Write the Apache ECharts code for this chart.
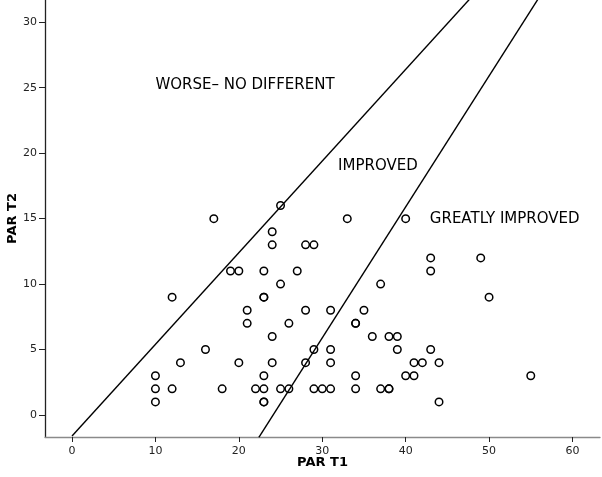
<!DOCTYPE html>
<html>
<head>
<meta charset="utf-8">
<script src="https://cdn.jsdelivr.net/npm/echarts@6/dist/echarts.min.js"></script>
<style>
html,body{margin:0;padding:0;background:#fff;}
#chart{width:602px;height:477px;}
</style>
</head>
<body>
<div id="chart"></div>
<script>
// PAR T1 (x) values of each subject
const parT1 = [25,17,33,40,24,24,28,29,43,49,
  19,20,23,27,43,25,37,12,23,23,50,
  21,28,31,35,21,26,34,34,24,36,38,39,
  16,29,31,39,43,13,20,24,28,31,41,42,44,
  10,23,34,40,41,55,
  10,12,18,22,23,25,26,29,30,31,34,37,38,38,
  10,23,23,44];
// PAR T2 (y) values of each subject
const parT2 = [16,15,15,15,14,13,13,13,12,12,
  11,11,11,11,11,10,10,9,9,9,9,
  8,8,8,8,7,7,7,7,6,6,6,6,
  5,5,5,5,5,4,4,4,4,4,4,4,4,
  3,3,3,3,3,3,
  2,2,2,2,2,2,2,2,2,2,2,2,2,2,
  1,1,1,1];
// reference boundary lines (endpoints in data units)
const line1X = [0, 50];
const line1Y = [-1.6, 33.4];
const line2X = [22.4, 58];
const line2Y = [-1.7, 33.9];
// region annotations
const noteText = ['WORSE\u2013 NO DIFFERENT', 'IMPROVED', 'GREATLY IMPROVED'];
const noteX = [10, 31.9, 42.9];
const noteY = [25.2, 19.0, 15.0];
// tick labels
const xTicks = [0, 10, 20, 30, 40, 50, 60];
const yTicks = [0, 5, 10, 15, 20, 25, 30];

const chart = echarts.init(document.getElementById('chart'), null, {renderer: 'canvas'});
const pts = parT1.map((x, i) => [x, parT2[i]]);
const notes = noteText.map((t, i) => ({value: [noteX[i], noteY[i]], name: t}));

chart.setOption({
  animation: false,
  backgroundColor: '#fff',
  grid: {left: 45, right: 2, top: 0, bottom: 40, containLabel: false, outerBoundsMode: 'none'},
  xAxis: {
    type: 'value', min: -3.24, max: 63.3,
    name: 'PAR T1', nameLocation: 'middle', nameGap: 19, nameMoveOverlap: false,
    nameTextStyle: {fontFamily: 'DejaVu Sans', fontWeight: 'bold', fontSize: 13, color: '#000'},
    splitLine: {show: false},
    axisLine: {show: true, onZero: false, lineStyle: {color: '#8a8a8a', width: 1.3}},
    axisTick: {show: true, length: 5, customValues: xTicks, lineStyle: {color: '#222'}},
    axisLabel: {customValues: xTicks, margin: 9, fontFamily: 'DejaVu Sans', fontSize: 11, color: '#222'}
  },
  yAxis: {
    type: 'value', min: -1.68, max: 31.7,
    name: 'PAR T2', nameLocation: 'middle', nameGap: 26, nameRotate: 90, nameMoveOverlap: false,
    nameTextStyle: {fontFamily: 'DejaVu Sans', fontWeight: 'bold', fontSize: 13, color: '#000'},
    splitLine: {show: false},
    axisLine: {show: true, onZero: false, lineStyle: {color: '#222', width: 1.3}},
    axisTick: {show: true, length: 6, customValues: yTicks, lineStyle: {color: '#222'}},
    axisLabel: {customValues: yTicks, margin: 8, fontFamily: 'DejaVu Sans', fontSize: 11, color: '#222'}
  },
  series: [
    {type: 'line', data: line1X.map((x, i) => [x, line1Y[i]]), symbol: 'none', silent: true,
     lineStyle: {color: '#000', width: 1.4}, clip: true},
    {type: 'line', data: line2X.map((x, i) => [x, line2Y[i]]), symbol: 'none', silent: true,
     lineStyle: {color: '#000', width: 1.4}, clip: true},
    {type: 'scatter', data: pts, symbol: 'circle', symbolSize: 7.5,
     itemStyle: {color: 'rgba(255,255,255,0)', borderColor: '#000', borderWidth: 1.5, opacity: 1}},
    {type: 'scatter', data: notes, symbolSize: 0, silent: true,
     label: {show: true, position: 'right', distance: 0, formatter: p => p.name,
             fontFamily: 'DejaVu Sans', fontSize: 15, color: '#000', opacity: 1, textBorderWidth: 0}}
  ]
});
</script>
</body>
</html>
